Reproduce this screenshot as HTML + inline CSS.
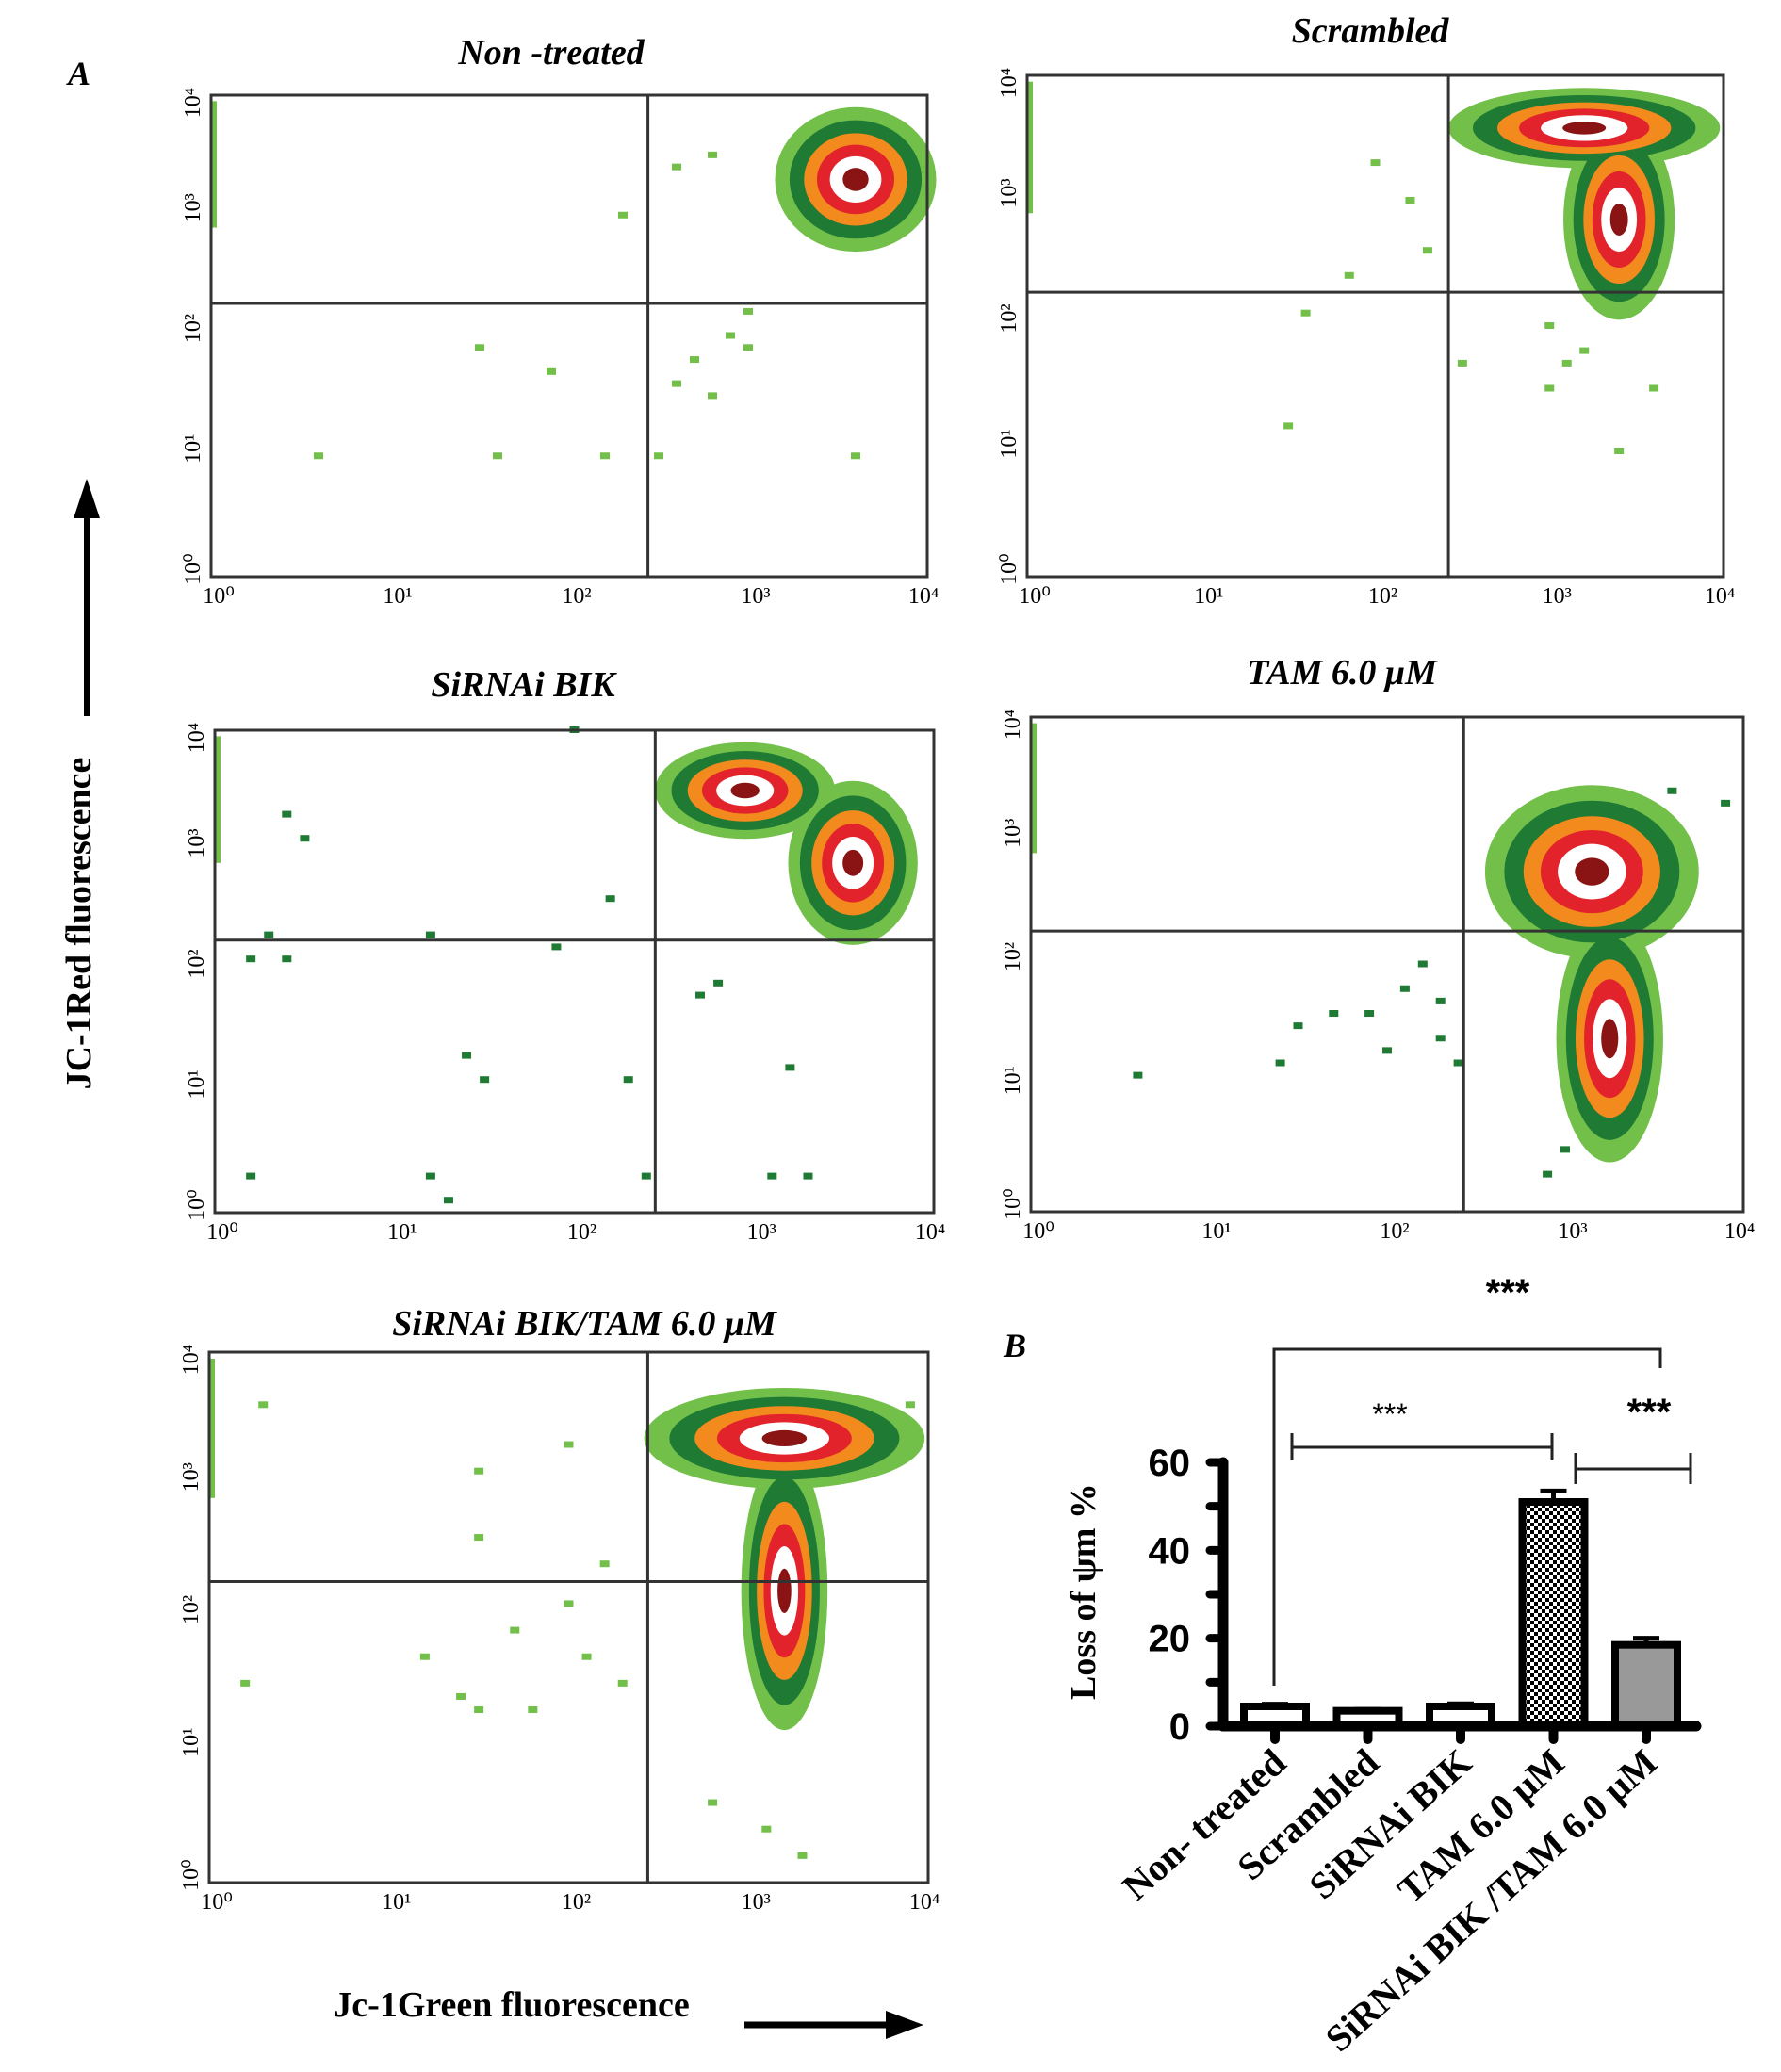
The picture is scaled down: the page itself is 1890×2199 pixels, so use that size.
<!DOCTYPE html>
<html><head><meta charset="utf-8"><style>
html,body{margin:0;padding:0;background:#fff;}
svg{display:block;}
</style></head><body>
<svg id="fig" width="1890" height="2199" viewBox="0 0 1890 2199" xmlns="http://www.w3.org/2000/svg">
<defs>
<pattern id="checker" width="8" height="8" patternUnits="userSpaceOnUse">
<rect width="8" height="8" fill="#fff"/><rect width="4" height="4" fill="#000"/><rect x="4" y="4" width="4" height="4" fill="#000"/>
</pattern>
</defs>
<text x="72" y="90" font-family="Liberation Serif, serif" font-style="italic" font-weight="bold" font-size="36">A</text>
<text x="1065" y="1440" font-family="Liberation Serif, serif" font-style="italic" font-weight="bold" font-size="36">B</text>
<text transform="translate(96,980) rotate(-90)" text-anchor="middle" font-family="Liberation Serif, serif" font-weight="bold" font-size="38">JC-1Red  fluorescence</text>
<g><line x1="92" y1="760" x2="92" y2="540" stroke="#000" stroke-width="6"/><polygon points="78,550 106,550 92,508" fill="#000"/></g>
<text x="543" y="2140" text-anchor="middle" font-family="Liberation Serif, serif" font-weight="bold" font-size="38">Jc-1Green   fluorescence</text>
<g><line x1="790" y1="2149" x2="950" y2="2149" stroke="#000" stroke-width="7"/><polygon points="940,2134 940,2164 980,2149" fill="#000"/></g>
<g id="flows"></g>
<g id="bars"></g>
</svg>
<script>
const NS='http://www.w3.org/2000/svg';
function mk(tag,attrs,parent){const e=document.createElementNS(NS,tag);for(const k in attrs)e.setAttribute(k,attrs[k]);parent.appendChild(e);return e;}

// ---- Flow cytometry data (log10 units, 0..4) ----
const panelTitles=['Non -treated','Scrambled','SiRNAi BIK','TAM  6.0 \u03bcM','SiRNAi BIK/TAM 6.0 \u03bcM'];
const quadX=[2.44,2.42,2.45,2.43,2.44];
const quadY=[2.27,2.27,2.26,2.27,2.27];
// blobs: [cx, cy, rx, ry]
const blobs1=[[3.6,3.3,0.45,0.6]];
const blobs2=[[3.2,3.58,0.78,0.32],[3.4,2.85,0.32,0.8]];
const blobs3=[[2.95,3.5,0.5,0.4],[3.55,2.9,0.36,0.68]];
const blobs4=[[3.15,2.75,0.6,0.7],[3.25,1.4,0.3,1.0]];
const blobs5=[[3.2,3.35,0.78,0.38],[3.2,2.2,0.24,1.05]];
const pts1=[[2.2,1.0],[1.6,1.0],[0.6,1.0],[3.6,1.0],[2.5,1.0],[2.8,1.5],[2.6,1.6],[3.0,1.9],[2.9,2.0],[2.7,1.8],[1.9,1.7],[2.3,3.0],[1.5,1.9],[2.8,3.5],[2.6,3.4],[3.0,2.2]];
const pts2=[[1.5,1.2],[1.6,2.1],[1.85,2.4],[2.2,3.0],[2.0,3.3],[3.0,1.5],[3.4,1.0],[3.2,1.8],[3.0,2.0],[3.6,1.5],[2.5,1.7],[3.1,1.7],[2.3,2.6]];
const pts3=[[0.3,2.3],[0.5,3.1],[0.4,3.3],[1.2,2.3],[0.2,2.1],[0.4,2.1],[1.4,1.3],[1.5,1.1],[2.3,1.1],[0.2,0.3],[1.2,0.3],[1.3,0.1],[2.4,0.3],[3.2,1.2],[3.3,0.3],[3.1,0.3],[2.7,1.8],[2.8,1.9],[2.2,2.6],[1.9,2.2],[2.0,4.0]];
const pts4=[[0.6,1.1],[1.5,1.5],[1.7,1.6],[1.9,1.6],[2.1,1.8],[2.2,2.0],[2.3,1.7],[2.0,1.3],[2.4,1.2],[1.4,1.2],[2.3,1.4],[3.9,3.3],[3.6,3.4],[2.9,0.3],[3.0,0.5]];
const pts5=[[0.2,1.5],[0.3,3.6],[1.2,1.7],[1.4,1.4],[1.5,1.3],[1.7,1.9],[1.8,1.3],[2.0,2.1],[2.1,1.7],[2.0,3.3],[1.5,3.1],[1.5,2.6],[2.3,1.5],[2.8,0.6],[3.3,0.2],[3.9,3.6],[3.1,0.4],[2.2,2.4]];
const allBlobs=[blobs1,blobs2,blobs3,blobs4,blobs5];
const allPts=[pts1,pts2,pts3,pts4,pts5];
const boxes=[[224,101,984,612,585,68],[1090,80,1829,612,1454,45],[228,775,991,1287,555,739],[1094,761,1850,1286,1424,726],[222,1435,985,1998,620,1417]];
const tickLabels=['10\u2070','10\u00b9','10\u00b2','10\u00b3','10\u2074'];
const layers=[[1,'#72c04a'],[0.82,'#1f7a34'],[0.64,'#f28a1e'],[0.48,'#e3232b'],[0.32,'#ffffff'],[0.16,'#8a1414']];

const flows=document.getElementById('flows');
boxes.forEach((b,i)=>{
  const [x0,y0,x1,y1,tx,ty]=b;
  const g=mk('g',{},flows);
  
  
  const sx=v=>x0+(x1-x0)*v/4, sy=v=>y1-(y1-y0)*v/4;
  const t=mk('text',{x:tx,y:ty,'text-anchor':'middle','font-family':'Liberation Serif, serif','font-style':'italic','font-weight':'bold','font-size':38},g);
  t.textContent=panelTitles[i];
  
  
  const s=mk('rect',{x:x0+1,y:sy(3.95),width:5,height:sy(2.9)-sy(3.95),fill:'#72c04a'},g);
  
  
  layers.forEach(([f,c])=>{
    allBlobs[i].forEach(bl=>{
      const e=mk('ellipse',{cx:sx(bl[0]),cy:sy(bl[1]),rx:(x1-x0)*bl[2]/4*f,ry:(y1-y0)*bl[3]/4*f,fill:c},g);
      
      
    });
  });
  allPts[i].forEach(p=>{
    const r=mk('rect',{x:sx(p[0])-5,y:sy(p[1])-4,width:10,height:7,fill:(i==2||i==3)?'#1f7a34':'#72c04a'},g);
    
    
  });
  const fr=mk('rect',{x:x0,y:y0,width:x1-x0,height:y1-y0,fill:'none',stroke:'#333',"stroke-width":3},g);
  
  
  const vl=mk('line',{x1:sx(quadX[i]),x2:sx(quadX[i]),y1:y0,y2:y1,stroke:'#333','stroke-width':3},g);
  
  
  const hl=mk('line',{x1:x0,x2:x1,y1:sy(quadY[i]),y2:sy(quadY[i]),stroke:'#333','stroke-width':3},g);
  
  
  tickLabels.forEach((lab,k)=>{
    const xt=mk('text',{x:sx(k)+(k==4?-4:8),y:y1+28,'text-anchor':'middle','font-family':'Liberation Serif, serif','font-size':24},g);
    xt.textContent=lab;
    
    
    const yt=mk('text',{transform:`translate(${x0-12},${sy(k)-(k==4?-8:8)}) rotate(-90)`,'text-anchor':'middle','font-family':'Liberation Serif, serif','font-size':24},g);
    yt.textContent=lab;
    
    
  });
});

// ---- Bar chart ----
const barCats=['Non- treated','Scrambled','SiRNAi BIK','TAM 6.0 \u03bcM','SiRNAi BIK /TAM 6.0 \u03bcM'];
const barVals=[4.5,3.5,4.5,51,18.5];
const barErr=[0.5,0.3,0.6,2.5,1.5];
const yTicks=[0,20,40,60];
const barFills=['#fff','#fff','#fff','url(#checker)','#999'];
const bg=document.getElementById('bars');
const X0=1298,XEND=1800,Y0=1832,PPU=280/60;
const yv=v=>Y0-v*PPU;
const bcx=k=>1353+k*98.5;
const BW=66;
barVals.forEach((v,k)=>{
  const r=mk('rect',{x:bcx(k)-BW/2,y:yv(v),width:BW,height:Y0-yv(v),fill:barFills[k],stroke:'#000','stroke-width':8},bg);
  
  
  const e=mk('path',{d:`M${bcx(k)},${yv(v)} V${yv(v+barErr[k])} M${bcx(k)-14},${yv(v+barErr[k])} H${bcx(k)+14}`,stroke:'#000','stroke-width':5,fill:'none'},bg);
  
  
  const tk=mk('line',{x1:bcx(k),x2:bcx(k),y1:Y0,y2:Y0+14,stroke:'#000','stroke-width':10,'stroke-linecap':'round'},bg);
  
  
  const lt=mk('text',{transform:`translate(${bcx(k)+14},${Y0+42}) rotate(-42)`,'text-anchor':'end','font-family':'Liberation Serif, serif','font-weight':'bold','font-size':40},bg);
  lt.textContent=barCats[k];
  
  
});
const ya=mk('line',{x1:X0,x2:X0,y1:yv(60),y2:Y0,stroke:'#000','stroke-width':11,'stroke-linecap':'round'},bg);


const xa=mk('line',{x1:X0,x2:XEND,y1:Y0,y2:Y0,stroke:'#000','stroke-width':11,'stroke-linecap':'round'},bg);


for(let v=0;v<=60;v+=10){
  const t=mk('line',{x1:X0-14,x2:X0,y1:yv(v),y2:yv(v),stroke:'#000','stroke-width':9,'stroke-linecap':'round'},bg);
  
  
}
yTicks.forEach(v=>{
  const t=mk('text',{x:1263,y:yv(v)+14,'text-anchor':'end','font-family':'Liberation Sans, sans-serif','font-weight':'bold','font-size':40},bg);
  t.textContent=v;
  
  
});
const yl=mk('text',{transform:'translate(1162,1689) rotate(-90)','text-anchor':'middle','font-family':'Liberation Serif, serif','font-weight':'bold','font-size':38},bg);
yl.textContent='Loss of \u03c8m %';


const brackets=[[1352,1762,1432,1789,1452,1600,1385],[1371,1647,1536,1521,1549,1475,1512],[1672,1794,1559,1542,1575,1750,1512]];
brackets.forEach((b,k)=>{
  const p=mk('path',{d:k==0?`M${b[0]},${b[3]} V${b[2]} H${b[1]} V${b[4]}`:`M${b[0]},${b[3]} V${b[4]} M${b[0]},${b[2]} H${b[1]} M${b[1]},${b[3]} V${b[4]}`,stroke:'#222','stroke-width':3,fill:'none'},bg);
  
  
  const s=mk('text',{x:b[5],y:b[6],'text-anchor':'middle','font-family':'Liberation Sans, sans-serif','font-size':k==1?32:40,'font-weight':k==1?'normal':'bold'},bg);
  s.textContent='***';
  
  
});
</script>
</body></html>
